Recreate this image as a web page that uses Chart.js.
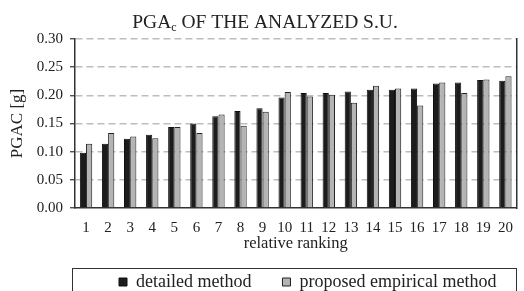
<!DOCTYPE html>
<html>
<head>
<meta charset="utf-8">
<script src="https://cdn.jsdelivr.net/npm/chart.js@4"></script>
<style>
  html, body { margin: 0; padding: 0; background: #fff; }
  #wrap { width: 524px; height: 291px; }
</style>
</head>
<body>
<div id="wrap"><canvas id="pgaChart"></canvas></div>
<script>
const rankings = ['1','2','3','4','5','6','7','8','9','10','11','12','13','14','15','16','17','18','19','20'];
const detailedMethod = [0.098, 0.114, 0.123, 0.130, 0.144, 0.150, 0.163, 0.172, 0.177, 0.196,
                        0.204, 0.204, 0.207, 0.210, 0.210, 0.212, 0.221, 0.223, 0.227, 0.226];
const empiricalMethod = [0.114, 0.133, 0.127, 0.124, 0.144, 0.133, 0.166, 0.146, 0.171, 0.206,
                         0.198, 0.201, 0.187, 0.217, 0.212, 0.182, 0.223, 0.204, 0.228, 0.234];
const yTicks = ['0.00', '0.05', '0.10', '0.15', '0.20', '0.25', '0.30'];

const serif = '"Liberation Serif", "Times New Roman", serif';

// title with subscript, legend placement + frame
const extras = {
  id: 'extras',
  beforeLayout(chart) {
    const lg = chart.legend;
    if (lg && !lg._patched) {
      const fit = lg.fit.bind(lg);
      lg.fit = function () { fit(); this.height = 0; };
      lg._patched = true;
    }
  },
  afterLayout(chart) {
    const lg = chart.legend;
    lg.left = 88; lg.right = 800;
    lg.top = 242; lg.bottom = 291;
  },
  afterDraw(chart) {
    const c = chart.ctx;
    c.save();
    c.fillStyle = '#222';
    c.textBaseline = 'alphabetic';
    const big = '19.5px ' + serif, small = '12px ' + serif;
    c.font = big;
    const w1 = c.measureText('PGA').width;
    const w3 = c.measureText(' OF THE ANALYZED S.U.').width;
    c.font = small;
    const w2 = c.measureText('c').width;
    let x = 265 - (w1 + w2 + w3) / 2;
    c.font = big;
    c.fillText('PGA', x, 28);
    c.font = small;
    c.fillText('c', x + w1, 31);
    c.font = big;
    c.fillText(' OF THE ANALYZED S.U.', x + w1 + w2, 28);
    // legend frame
    c.strokeStyle = '#333';
    c.lineWidth = 1;
    c.strokeRect(72.5, 268.5, 444, 30);
    c.restore();
  }
};

const ctx = document.getElementById('pgaChart').getContext('2d');
new Chart(ctx, {
  type: 'bar',
  data: {
    labels: rankings,
    datasets: [
      {
        label: 'detailed method',
        data: detailedMethod,
        backgroundColor: '#1c1c1c',
        borderColor: '#111',
        borderWidth: 1,
      },
      {
        label: 'proposed empirical method',
        data: empiricalMethod,
        backgroundColor: '#b4b4b4',
        borderColor: '#222',
        borderWidth: 1,
      },
    ],
  },
  options: {
    responsive: true,
    maintainAspectRatio: false,
    animation: false,
    layout: { padding: { top: 39, right: 5, left: 0, bottom: 0 } },
    datasets: { bar: { categoryPercentage: 0.56, barPercentage: 1.0 } },
    scales: {
      x: {
        grid: { display: false, drawTicks: false },
        border: { color: '#333', width: 1.5 },
        ticks: { color: '#222', padding: 11, font: { family: serif, size: 15 }, maxRotation: 0, autoSkip: false },
        title: { display: true, text: 'relative ranking', color: '#222', font: { family: serif, size: 16.5 }, padding: { top: 0, bottom: 37 } },
        afterFit(scale) { scale.height = 83; },
      },
      y: {
        min: 0,
        max: 0.30,
        ticks: {
          stepSize: 0.05,
          color: '#222',
          padding: 7,
          font: { family: serif, size: 15 },
          callback: (v, i) => yTicks[i],
        },
        grid: {
          color: (c) => (c.index === 0 ? 'rgba(0,0,0,0)' : '#bdbdbd'),
          lineWidth: 1.5,
          tickLength: 5,
          tickColor: '#333',
          tickWidth: 1.2,
          tickBorderDash: [],
        },
        border: { color: '#333', width: 1.5, dash: [7, 4] },
        title: { display: true, text: 'PGAC [g]', color: '#222', font: { family: serif, size: 17 }, padding: { top: 7, bottom: 0 } },
        afterFit(scale) { scale.width = 75; },
      },
      y2: {
        position: 'right',
        min: 0,
        max: 0.30,
        ticks: { display: false },
        grid: { display: false },
        border: { color: '#333', width: 1.5 },
        afterFit(scale) { scale.width = 0; },
      },
    },
    plugins: {
      legend: {
        position: 'bottom',
        align: 'start',
        labels: {
          boxWidth: 8,
          boxHeight: 8,
          padding: 31,
          color: '#222',
          font: { family: serif, size: 18 },
        },
      },
      tooltip: { enabled: false },
    },
  },
  plugins: [extras],
});
</script>
</body>
</html>
